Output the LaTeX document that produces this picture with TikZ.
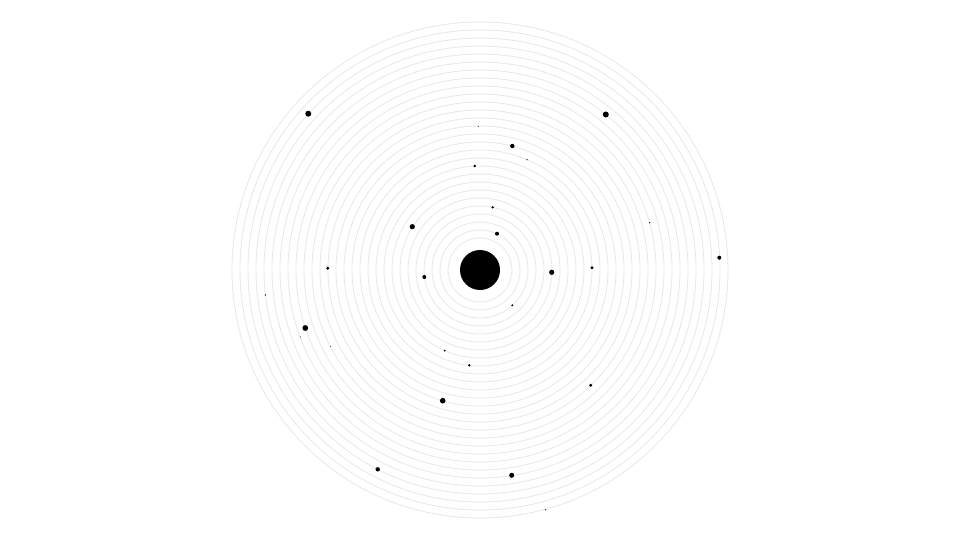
\documentclass[tikz,border=0pt]{standalone}
\usepackage{xcolor}
\usepackage{tikz}
\usetikzlibrary{positioning}
\definecolor{orbitGray}{HTML}{E9E9E9}

\begin{document}
\begin{tikzpicture}[
    x=1pt, y=-1pt,
    orbit/.style={draw=orbitGray, line width=0.9pt},
    core/.style={circle, fill=black, inner sep=0pt, minimum size=40pt}
  ]
    \useasboundingbox (0,0) rectangle (960,540);
    % rings
    \foreach \r in {32,40,...,248}
      \draw[orbit] (480,270) circle[radius=\r pt];
    \node[core] (sun) at (480,270) {};
    % scattered bodies: x/y/radius
    \foreach \px/\py/\pr in {308.3/113.7/3, 605.8/114.5/3, 478.3/126.3/0.5,
        512.3/146/2.2, 527/159.7/0.7, 474.7/166/1.3, 492.7/207.3/1.3,
        412.3/226.7/2.6, 497/233.7/2, 649.7/222.7/0.7, 719.3/257.7/2,
        327.7/268.3/1.6, 424.3/277/2, 551.7/272.3/2.6, 592/267.7/1.6,
        265.3/295/0.7, 512.3/305.3/1.1, 305.3/328/2.9, 300.3/337/0.5,
        330.3/346.3/0.5, 444.7/350.7/1, 469.3/365.3/1.3, 442.7/400.7/2.8,
        590.7/385.3/1.6, 377.7/469.3/2.2, 511.7/475.3/2.5, 545.7/509.7/0.6}
      \fill[black] (\px,\py) circle[radius=\pr pt];
  \end{tikzpicture}
\end{document}
